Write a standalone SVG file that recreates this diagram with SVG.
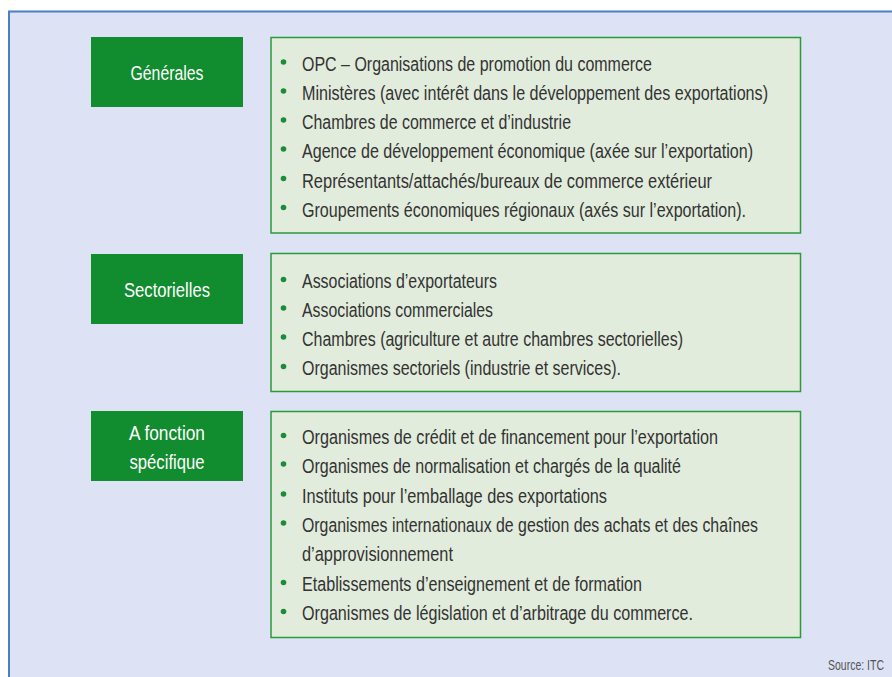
<svg xmlns="http://www.w3.org/2000/svg" width="892" height="677" viewBox="0 0 892 677">
<style>
.frame{fill:#dde3f5}
.frameline{fill:none;stroke:#4a7fc4;stroke-width:2}
.lab{fill:#118c2e}
.labt{fill:#ffffff;font-family:"Liberation Sans",Arial,sans-serif;font-size:20.5px;text-anchor:middle}
.box{fill:#e2ecdc;stroke:#2a9a3a;stroke-width:1.5}
.it{fill:#333333;font-family:"Liberation Sans",Arial,sans-serif;font-size:19.5px}
.bul{fill:#1a8c3a}
.src{fill:#555555;font-family:"Liberation Sans",Arial,sans-serif;font-size:15px;text-anchor:end}
</style>
<rect x="0" y="0" width="892" height="677" fill="#ffffff"/>
<rect class="frame" x="9" y="11.5" width="883" height="665.5"/>
<path class="frameline" d="M9,677 V11.5 H892"/>
<g id="connectors"></g>
<g id="label-generales">
<rect class="lab" x="91" y="37" width="152" height="70"/>
<text class="labt" x="167" y="80" textLength="73" lengthAdjust="spacingAndGlyphs">Générales</text>
</g>
<g id="list-generales">
<rect class="box" x="271" y="37.5" width="529.5" height="195.5"/>
<circle class="bul" cx="283.5" cy="62" r="2.8"/>
<circle class="bul" cx="283.5" cy="91" r="2.8"/>
<circle class="bul" cx="283.5" cy="120" r="2.8"/>
<circle class="bul" cx="283.5" cy="149" r="2.8"/>
<circle class="bul" cx="283.5" cy="178.5" r="2.8"/>
<circle class="bul" cx="283.5" cy="207.5" r="2.8"/>
<text class="it" x="302" y="71" textLength="350" lengthAdjust="spacingAndGlyphs">OPC – Organisations de promotion du commerce</text>
<text class="it" x="302" y="100" textLength="466" lengthAdjust="spacingAndGlyphs">Ministères (avec intérêt dans le développement des exportations)</text>
<text class="it" x="302" y="129" textLength="269" lengthAdjust="spacingAndGlyphs">Chambres de commerce et d’industrie</text>
<text class="it" x="302" y="158" textLength="451" lengthAdjust="spacingAndGlyphs">Agence de développement économique (axée sur l’exportation)</text>
<text class="it" x="302" y="187.5" textLength="410" lengthAdjust="spacingAndGlyphs">Représentants/attachés/bureaux de commerce extérieur</text>
<text class="it" x="302" y="216.5" textLength="444" lengthAdjust="spacingAndGlyphs">Groupements économiques régionaux (axés sur l’exportation).</text>
</g>
<g id="label-sectorielles">
<rect class="lab" x="91" y="254" width="152" height="70"/>
<text class="labt" x="167" y="297" textLength="86" lengthAdjust="spacingAndGlyphs">Sectorielles</text>
</g>
<g id="list-sectorielles">
<rect class="box" x="271" y="253.5" width="529.5" height="138"/>
<circle class="bul" cx="283.5" cy="279.5" r="2.8"/>
<circle class="bul" cx="283.5" cy="308" r="2.8"/>
<circle class="bul" cx="283.5" cy="337" r="2.8"/>
<circle class="bul" cx="283.5" cy="366.5" r="2.8"/>
<text class="it" x="302" y="288" textLength="195" lengthAdjust="spacingAndGlyphs">Associations d’exportateurs</text>
<text class="it" x="302" y="317" textLength="191" lengthAdjust="spacingAndGlyphs">Associations commerciales</text>
<text class="it" x="302" y="346" textLength="381" lengthAdjust="spacingAndGlyphs">Chambres (agriculture et autre chambres sectorielles)</text>
<text class="it" x="302" y="375" textLength="319" lengthAdjust="spacingAndGlyphs">Organismes sectoriels (industrie et services).</text>
</g>
<g id="label-specifique">
<rect class="lab" x="91" y="411" width="152" height="70"/>
<text class="labt" x="167" y="440" textLength="76" lengthAdjust="spacingAndGlyphs">A fonction</text>
<text class="labt" x="167" y="468.5" textLength="75" lengthAdjust="spacingAndGlyphs">spécifique</text>
</g>
<g id="list-specifique">
<rect class="box" x="271" y="411.5" width="529.5" height="226"/>
<circle class="bul" cx="283.5" cy="435.5" r="2.8"/>
<circle class="bul" cx="283.5" cy="464" r="2.8"/>
<circle class="bul" cx="283.5" cy="494" r="2.8"/>
<circle class="bul" cx="283.5" cy="523" r="2.8"/>
<circle class="bul" cx="283.5" cy="582.5" r="2.8"/>
<circle class="bul" cx="283.5" cy="611.5" r="2.8"/>
<text class="it" x="302" y="444" textLength="416" lengthAdjust="spacingAndGlyphs">Organismes de crédit et de financement pour l’exportation</text>
<text class="it" x="302" y="473" textLength="379" lengthAdjust="spacingAndGlyphs">Organismes de normalisation et chargés de la qualité</text>
<text class="it" x="302" y="502.5" textLength="305" lengthAdjust="spacingAndGlyphs">Instituts pour l’emballage des exportations</text>
<text class="it" x="302" y="532" textLength="456" lengthAdjust="spacingAndGlyphs">Organismes internationaux de gestion des achats et des chaînes</text>
<text class="it" x="302" y="561" textLength="151" lengthAdjust="spacingAndGlyphs">d’approvisionnement</text>
<text class="it" x="302" y="590.5" textLength="340" lengthAdjust="spacingAndGlyphs">Etablissements d’enseignement et de formation</text>
<text class="it" x="302" y="620" textLength="391" lengthAdjust="spacingAndGlyphs">Organismes de législation et d’arbitrage du commerce.</text>
</g>
<text class="src" x="884" y="670" textLength="56" lengthAdjust="spacingAndGlyphs">Source: ITC</text>
</svg>
